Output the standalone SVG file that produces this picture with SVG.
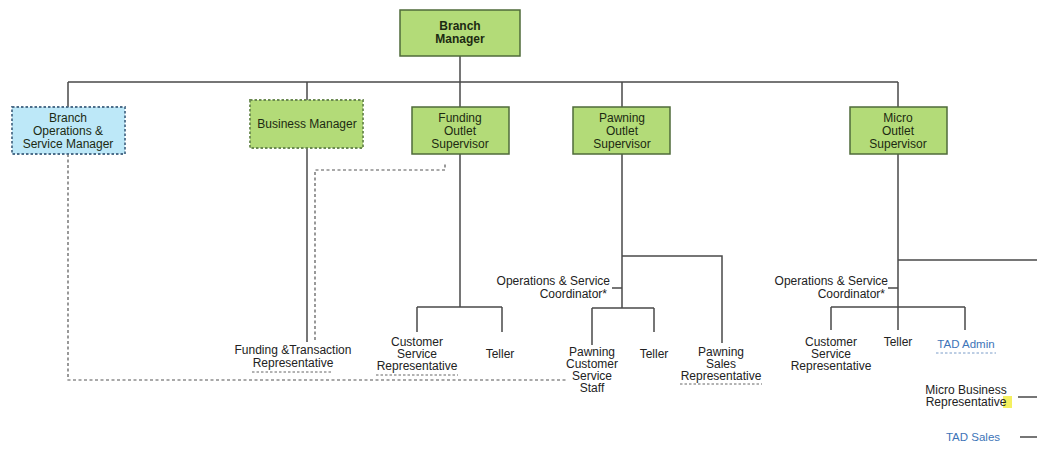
<svg xmlns="http://www.w3.org/2000/svg" width="1037" height="449" viewBox="0 0 1037 449">
<style>
.bg{fill:#ffffff}
.g{fill:#b3db78;stroke:#4f6b3a;stroke-width:1.5}
.gd{fill:#b3db78;stroke:#6b8a50;stroke-width:1.8;stroke-dasharray:2.5 2}
.bd{fill:#bde8f8;stroke:#4d6e8a;stroke-width:1.8;stroke-dasharray:2.5 2}
.t{font-family:"Liberation Sans",Arial,sans-serif;font-size:12px;fill:#222;text-anchor:middle}
.tb{font-family:"Liberation Sans",Arial,sans-serif;font-size:12px;fill:#1c2a12;text-anchor:middle}
.bold{font-weight:bold}
.r{text-anchor:end}
.blue{fill:#3d74b8;font-size:11.5px}
.ln{fill:none;stroke:#4a4a4a;stroke-width:1.5}
.dl{fill:none;stroke:#555;stroke-width:1.2;stroke-dasharray:3 2.5}
.ul{fill:none;stroke:#666;stroke-width:1;stroke-dasharray:2.5 2}
</style>
<rect class="bg" x="0" y="0" width="1037" height="449"/>
<g id="connectors">
<path class="ln" d="M460 56V107M68 82H898M68 82V107M307 82V100M622 82V107M898 82V107"/>
<path class="ln" d="M307 148V342"/>
<path class="ln" d="M460 154V307M417 307H502M417 307V332M502 307V332"/>
<path class="ln" d="M622 154V308M622 256H722V343M612 288H622M592 308H654M592 308V345M654 308V332"/>
<path class="ln" d="M898 154V330M898 260H1037M888 288H898M831 307H965M831 307V330M965 307V330"/>
<path class="ln" d="M1018 397H1037M1020 437H1037"/>
<path class="dl" d="M68 154V380H567"/>
<path class="dl" d="M315 340V170H445V163"/>
</g>
<g id="branch-manager">
<rect class="g" x="400" y="10" width="120" height="46"/>
<text class="tb bold" x="460" y="30">Branch</text>
<text class="tb bold" x="460" y="43">Manager</text>
</g>
<g id="branch-ops">
<rect class="bd" x="12" y="107" width="113" height="47"/>
<text class="tb" x="68" y="122">Branch</text>
<text class="tb" x="68" y="135">Operations &amp;</text>
<text class="tb" x="68" y="148">Service Manager</text>
</g>
<g id="business-manager">
<rect class="gd" x="250" y="100" width="113" height="48"/>
<text class="tb" x="307" y="128">Business Manager</text>
</g>
<g id="funding-outlet">
<rect class="g" x="412" y="107" width="97" height="47"/>
<text class="tb" x="460" y="122">Funding</text>
<text class="tb" x="460" y="135">Outlet</text>
<text class="tb" x="460" y="148">Supervisor</text>
</g>
<g id="pawning-outlet">
<rect class="g" x="573" y="107" width="97" height="47"/>
<text class="tb" x="622" y="122">Pawning</text>
<text class="tb" x="622" y="135">Outlet</text>
<text class="tb" x="622" y="148">Supervisor</text>
</g>
<g id="micro-outlet">
<rect class="g" x="850" y="107" width="97" height="47"/>
<text class="tb" x="898" y="122">Micro</text>
<text class="tb" x="898" y="135">Outlet</text>
<text class="tb" x="898" y="148">Supervisor</text>
</g>
<g id="funding-transaction-rep">
<text class="t" x="293" y="354">Funding &amp;Transaction</text>
<text class="t" x="293" y="367">Representative</text>
<path class="ul" d="M252 372H333"/>
</g>
<g id="funding-csr">
<text class="t" x="417" y="346">Customer</text>
<text class="t" x="417" y="358">Service</text>
<text class="t" x="417" y="370">Representative</text>
<path class="ul" d="M376 375H458"/>
</g>
<g id="funding-teller">
<text class="t" x="500" y="358">Teller</text>
</g>
<g id="pawning-osc">
<text class="t r" x="610" y="285">Operations &amp; Service</text>
<text class="t r" x="607" y="298">Coordinator*</text>
</g>
<g id="pawning-css">
<text class="t" x="592" y="356">Pawning</text>
<text class="t" x="592" y="368">Customer</text>
<text class="t" x="592" y="380">Service</text>
<text class="t" x="592" y="392">Staff</text>
</g>
<g id="pawning-teller">
<text class="t" x="654" y="358">Teller</text>
</g>
<g id="pawning-sales-rep">
<text class="t" x="721" y="356">Pawning</text>
<text class="t" x="721" y="368">Sales</text>
<text class="t" x="721" y="380">Representative</text>
<path class="ul" d="M680 384H762"/>
</g>
<g id="micro-osc">
<text class="t r" x="888" y="285">Operations &amp; Service</text>
<text class="t r" x="885" y="298">Coordinator*</text>
</g>
<g id="micro-csr">
<text class="t" x="831" y="346">Customer</text>
<text class="t" x="831" y="358">Service</text>
<text class="t" x="831" y="370">Representative</text>
</g>
<g id="micro-teller">
<text class="t" x="898" y="346">Teller</text>
</g>
<g id="tad-admin">
<text class="t blue" x="966" y="348">TAD Admin</text>
<path class="ul" d="M936 353H996" style="stroke:#7a9cc8"/>
</g>
<g id="micro-business-rep">
<rect x="1003" y="396" width="9" height="12" fill="#f4f060"/>
<text class="t" x="966" y="394">Micro Business</text>
<text class="t" x="966" y="406">Representative</text>
</g>
<g id="tad-sales">
<text class="t blue" x="973" y="441">TAD Sales</text>
</g>
</svg>
